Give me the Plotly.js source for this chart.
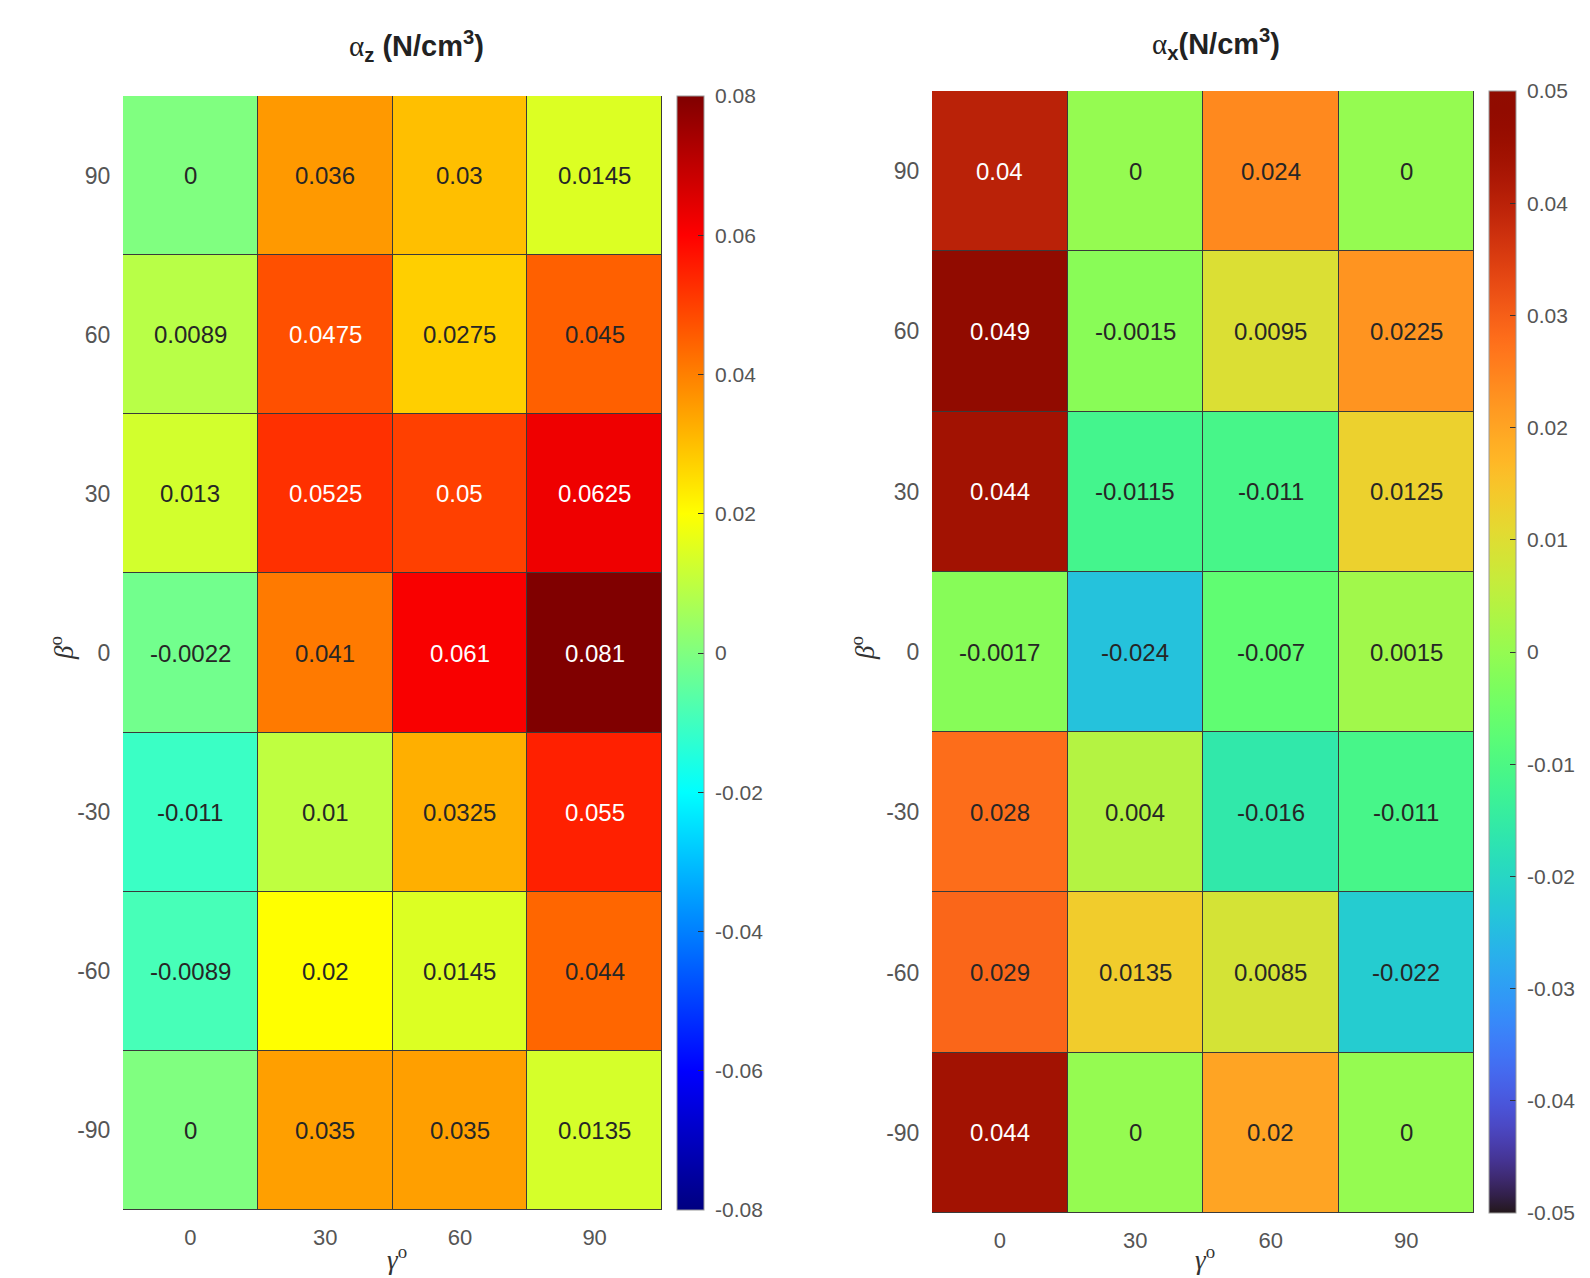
<!DOCTYPE html>
<html>
<head>
<meta charset="utf-8">
<script src="https://cdn.plot.ly/plotly-3.0.1.min.js"></script>
<style>html,body{margin:0;padding:0;background:#fff;}#chart{width:1590px;height:1278px;}</style>
</head>
<body>
<div id="chart"></div>
<script>
// ---- data ----
const gamma = [0, 30, 60, 90];
const beta = [90, 60, 30, 0, -30, -60, -90];
const alphaZ = [
  [0, 0.036, 0.03, 0.0145],
  [0.0089, 0.0475, 0.0275, 0.045],
  [0.013, 0.0525, 0.05, 0.0625],
  [-0.0022, 0.041, 0.061, 0.081],
  [-0.011, 0.01, 0.0325, 0.055],
  [-0.0089, 0.02, 0.0145, 0.044],
  [0, 0.035, 0.035, 0.0135]
];
const alphaX = [
  [0.04, 0, 0.024, 0],
  [0.049, -0.0015, 0.0095, 0.0225],
  [0.044, -0.0115, -0.011, 0.0125],
  [-0.0017, -0.024, -0.007, 0.0015],
  [0.028, 0.004, -0.016, -0.011],
  [0.029, 0.0135, 0.0085, -0.022],
  [0.044, 0, 0.02, 0]
];
const zRange = [-0.08, 0.08];
const zStep = 0.02;
const xRange = [-0.05, 0.05];
const xStep = 0.01;

// ---- colormaps ----
const jetPts = [[0,[0,0,128]],[0.125,[0,0,255]],[0.375,[0,255,255]],[0.625,[255,255,0]],[0.875,[255,0,0]],[1,[128,0,0]]];
function jet(t){
  t = Math.max(0, Math.min(1, t));
  for (let i = 1; i < jetPts.length; i++) {
    if (t <= jetPts[i][0]) {
      const a = jetPts[i-1], b = jetPts[i];
      const f = (t - a[0]) / (b[0] - a[0]);
      return a[1].map((v, k) => v + f * (b[1][k] - v));
    }
  }
  return jetPts[jetPts.length-1][1];
}
function turbo(t){
  t = Math.max(0, Math.min(1, t));
  const r = 34.61 + t*(1172.33 - t*(10793.56 - t*(33300.12 - t*(38394.49 - t*14825.05))));
  const g = 23.31 + t*(557.33 + t*(1225.33 - t*(3574.96 - t*(1073.77 + t*707.56))));
  const b = 27.2 + t*(3211.1 - t*(15327.97 - t*(27814 - t*(22569.18 - t*6838.66))));
  return [r, g, b].map(v => Math.max(0, Math.min(255, v)));
}
function rgb(c){ return 'rgb(' + c.map(v => Math.round(v)).join(',') + ')'; }
function scale(fn, n){ const s = []; for (let i = 0; i <= n; i++) s.push([i/n, rgb(fn(i/n))]); return s; }

const FONT = 'Liberation Sans, Arial, Helvetica, sans-serif';
const W = 1590, H = 1278;
const px = v => v / W, py = v => 1 - v / H;

const L = {x0: 123, x1: 662, y0: 96, y1: 1210, cb: 677};
const R = {x0: 932, x1: 1474, y0: 91, y1: 1213, cb: 1489};

function cbar(box, rng, dt){
  const n = Math.round((rng[1] - rng[0]) / dt);
  const vals = [];
  for (let k = 0; k <= n; k++) vals.push(+(rng[0] + k * dt).toFixed(4));
  return {
    x: px(box.cb), xanchor: 'left', xpad: 0, xref: 'paper',
    y: py(box.y1), yanchor: 'bottom', ypad: 0, yref: 'paper',
    len: (box.y1 - box.y0) / H, lenmode: 'fraction',
    thickness: 27, thicknessmode: 'pixels',
    outlinewidth: 1, outlinecolor: '#999',
    ticks: 'inside', ticklen: 6, tickcolor: '#333', tickwidth: 1,
    tickmode: 'array', tickvals: vals, ticktext: vals.map(v => '\u00a0' + String(v)),
    tickfont: {family: FONT, size: 21, color: '#555'}
  };
}

const traces = [
  {type: 'heatmap', x: gamma, y: beta, z: alphaZ, zmin: zRange[0], zmax: zRange[1],
   colorscale: scale(jet, 64), xgap: 1, ygap: 1, xaxis: 'x', yaxis: 'y',
   colorbar: cbar(L, zRange, zStep), hoverinfo: 'skip'},
  {type: 'heatmap', x: gamma, y: beta, z: alphaX, zmin: xRange[0], zmax: xRange[1],
   colorscale: scale(turbo, 64), xgap: 1, ygap: 1, xaxis: 'x2', yaxis: 'y2',
   colorbar: cbar(R, xRange, xStep), hoverinfo: 'skip'}
];

function axisX(box, anchor){
  return {domain: [px(box.x0), px(box.x1)], anchor: anchor, tickmode: 'array', tickvals: gamma, ticktext: gamma.map(String),
    showgrid: false, zeroline: false, showline: false, ticks: 'outside', ticklen: 8, tickcolor: 'rgba(0,0,0,0)',
    tickfont: {family: FONT, size: 22, color: '#555'}, fixedrange: true, automargin: false};
}
function axisY(box, anchor){
  return {domain: [py(box.y1), py(box.y0)], anchor: anchor, tickmode: 'array', tickvals: beta, ticktext: beta.map(String),
    showgrid: false, zeroline: false, showline: false, ticks: 'outside', ticklen: 7, tickcolor: 'rgba(0,0,0,0)',
    tickfont: {family: FONT, size: 23, color: '#555'}, fixedrange: true, automargin: false};
}

const annotations = [];
function cellText(data, rng, fn, xa, ya){
  data.forEach((row, i) => row.forEach((v, j) => {
    const c = fn((v - rng[0]) / (rng[1] - rng[0]));
    const lum = 0.299*c[0] + 0.587*c[1] + 0.114*c[2];
    annotations.push({x: gamma[j], y: beta[i], xref: xa, yref: ya, text: String(v),
      xanchor: 'center', yanchor: 'middle',
      showarrow: false, font: {family: FONT, size: 24, color: lum < 128 ? '#ffffff' : '#262626'}});
  }));
}
cellText(alphaZ, zRange, jet, 'x', 'y');
cellText(alphaX, xRange, turbo, 'x2', 'y2');

const alpha = '<span style="font-family:Liberation Serif,serif;font-weight:normal">α</span>';
const titleFont = {family: FONT, size: 29, color: '#222'};
const labFont = {family: 'Liberation Serif, serif', size: 27, color: '#333'};
const pa = (x, y, text, font, extra) => Object.assign({xref: 'paper', yref: 'paper', x: px(x), y: py(y), text: text,
  xanchor: 'center', yanchor: 'middle', showarrow: false, font: font}, extra || {});
annotations.push(
  pa(416, 46, '<b>' + alpha + '<sub>z</sub> (N/cm<sup>3</sup>)</b>', titleFont),
  pa(1216, 44, '<b>' + alpha + '<sub>x</sub>(N/cm<sup>3</sup>)</b>', titleFont),
  pa(62, 648, '<i>β</i><sup>o</sup>', labFont, {textangle: -90}),
  pa(863, 648, '<i>β</i><sup>o</sup>', labFont, {textangle: -90}),
  pa(397, 1277, '<i>γ</i><sup>o</sup>', labFont, {yanchor: 'bottom'}),
  pa(1205, 1277, '<i>γ</i><sup>o</sup>', labFont, {yanchor: 'bottom'})
);

const layout = {
  width: W, height: H, margin: {l: 0, r: 0, t: 0, b: 0, autoexpand: false},
  paper_bgcolor: '#ffffff', plot_bgcolor: '#3a3a3a',
  font: {family: FONT, color: '#555'},
  xaxis: axisX(L, 'y'), yaxis: axisY(L, 'x'),
  xaxis2: axisX(R, 'y2'), yaxis2: axisY(R, 'x2'),
  annotations: annotations, showlegend: false
};

Plotly.newPlot('chart', traces, layout, {staticPlot: true, displayModeBar: false});
</script>
</body>
</html>
